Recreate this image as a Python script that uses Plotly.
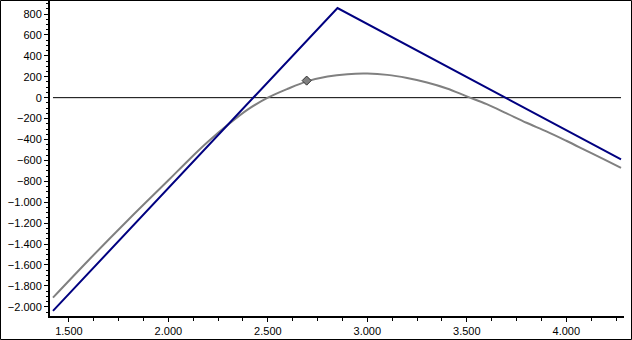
import plotly.graph_objects as go

# Underlying price (x) values
blue_x = [1420, 2850, 4275]
blue_y = [-2039, 857, -590]

gray_x = [1420, 1600, 1800, 2000, 2100, 2200, 2300, 2400, 2500, 2600, 2700, 2800, 2900,
          3000, 3100, 3200, 3300, 3400, 3500, 3600, 3700, 3800, 3900, 4000, 4100, 4200, 4275]
gray_y = [-1912, -1552, -1165, -790, -600, -420, -258, -112, 0, 85, 158, 203, 225,
          230, 218, 188, 145, 88, 12, -62, -150, -240, -322, -412, -506, -600, -672]

marker_x = [2695]
marker_y = [163]

zero_x = [1420, 4275]
zero_y = [0, 0]

x_ticks = [1500, 2000, 2500, 3000, 3500, 4000]
y_ticks = [800, 600, 400, 200, 0, -200, -400, -600, -800, -1000, -1200, -1400, -1600, -1800, -2000]

fig = go.Figure()
fig.add_trace(go.Scatter(x=zero_x, y=zero_y, mode="lines",
                         line=dict(color="black", width=1), hoverinfo="skip"))
fig.add_trace(go.Scatter(x=gray_x, y=gray_y, mode="lines", line_shape="spline",
                         line=dict(color="#808080", width=2)))
fig.add_trace(go.Scatter(x=blue_x, y=blue_y, mode="lines",
                         line=dict(color="#000080", width=2)))
fig.add_trace(go.Scatter(x=marker_x, y=marker_y, mode="markers",
                         marker=dict(symbol="diamond", size=7, color="#808080",
                                     line=dict(color="#333333", width=1))))

L, R, T, B = 50, 8, 0, 24
W, H = 632, 340
pw, ph = W - L - R, H - T - B

fig.update_layout(
    width=W, height=H,
    margin=dict(l=L, r=R, t=T, b=B),
    paper_bgcolor="white", plot_bgcolor="white",
    showlegend=False,
    separators=",.",
    font=dict(family="Liberation Sans, Arial, sans-serif", size=11, color="black"),
    xaxis=dict(range=[1405, 4290], tickvals=x_ticks, tickformat=",d",
               showgrid=False, zeroline=False, showline=True, linecolor="black",
               linewidth=2, ticks="outside", ticklen=4, tickcolor="black",
               minor=dict(dtick=125, ticks="outside", ticklen=3, tickcolor="black"),
               fixedrange=True),
    yaxis=dict(range=[-2088, 934], tickvals=y_ticks, tickformat=",d",
               showgrid=False, zeroline=False, showline=True, linecolor="black",
               linewidth=2, ticks="outside", ticklen=4, tickcolor="black",
               minor=dict(dtick=50, ticks="outside", ticklen=2, tickcolor="black"),
               fixedrange=True),
    shapes=[dict(type="rect", xref="paper", yref="paper",
                 x0=(-L + 0.5) / pw, x1=(pw + R - 0.5) / pw,
                 y0=(-B + 0.5) / ph, y1=(ph - 0.5) / ph,
                 line=dict(color="black", width=1))],
)

fig.write_html("out.html", config={"displayModeBar": False})
